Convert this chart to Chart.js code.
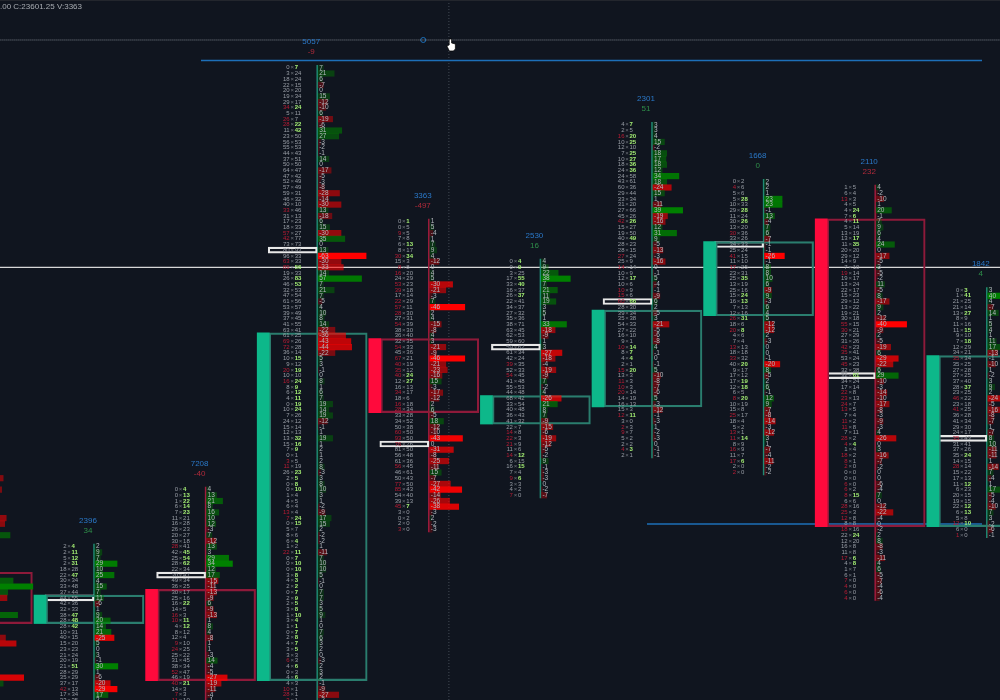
<!DOCTYPE html>
<html>
<head>
<meta charset="utf-8">
<title>Footprint chart</title>
<script src="https://cdn.jsdelivr.net/npm/chart.js@4"></script>
<style>
  html, body { margin: 0; background: #10151f; }
  canvas { display: block; }
</style>
</head>
<body>
<canvas id="myChart" width="1000" height="700"></canvas>
<script>
const tick = 0.25;
const lastClose = 23601.25;
const statusText = ".00 C:23601.25 V:3363";

const volumes = [2396, 7208, 5057, 3363, 2530, 2301, 1668, 2110, 1842];
const totals = [34, -40, -9, -497, 16, 51, 0, 232, 4];
const totalIsRed = [false, true, true, true, false, false, false, true, false];
const topPrices = [23595.25, 23597.75, 23616.25, 23609.5, 23607.75, 23613.75, 23611.25, 23611, 23606.5];
const pocPrices = [23593, 23594, 23608.25, 23599.75, 23604, 23606, 23608.5, 23602.75, 23600];

// candles, first one is the bar cut off at the left edge
const candleSlots = [-1, 0, 1, 2, 3, 4, 5, 6, 7, 8];
const candleOpen = [23594, 23592, 23593.25, 23589.5, 23604.25, 23600.75, 23601.5, 23605.5, 23609.5, 23596.25];
const candleClose = [23592, 23593, 23589.5, 23604.5, 23601.25, 23601.75, 23605.5, 23608.5, 23596.25, 23603.5];

const bid0 = [2, 2, 5, 2, 18, 22, 30, 33, 37, 44, 42, 32, 38, 28, 28, 10, 40, 15, 23, 21, 20, 21, 28, 35, 37, 42, 17, 33];
const ask0 = [4, 11, 12, 31, 28, 47, 34, 48, 44, 55, 36, 33, 47, 48, 42, 31, 15, 20, 23, 24, 19, 51, 29, 29, 17, 13, 34, 35];

const bid1 = [0, 0, 1, 6, 7, 11, 16, 26, 20, 30, 28, 42, 25, 28, 22, 30, 49, 36, 30, 25, 16, 14, 16, 10, 4, 8, 12, 9, 24, 25, 31, 38, 52, 46, 40, 14, 7, 11];
const ask1 = [4, 13, 22, 14, 23, 21, 28, 23, 27, 18, 41, 45, 54, 62, 34, 47, 34, 25, 17, 16, 22, 5, 3, 11, 12, 12, 4, 10, 25, 22, 45, 34, 47, 19, 21, 3, 3, 10];

const bid2 = [0, 3, 18, 22, 20, 19, 29, 34, 5, 26, 28, 11, 23, 56, 55, 44, 37, 50, 64, 47, 52, 57, 59,
  46, 40, 33, 31, 17, 18, 57, 42, 73, 80, 96, 63, 89, 19, 26, 46, 32, 47, 61, 53, 39, 37, 41, 63, 61, 69, 72, 36,
  10, 9, 20, 10, 16, 8, 6, 4, 0, 10, 7, 24, 15, 12, 13, 15, 7,
  0, 3, 11, 26, 2, 0, 0, 1, 4, 6, 13, 7, 0, 5, 8, 6, 1, 22, 0, 0, 0, 3, 4, 2, 0, 2, 2, 3, 1, 3, 1, 0, 2, 4, 3, 3, 6, 4, 0, 4, 4, 10, 28, 3];
const ask2 = [7, 24, 24, 15, 20, 34, 17, 24, 11, 7, 22, 42, 50, 53, 53, 43, 51, 50, 47, 42, 49, 49, 31,
  32, 10, 46, 13, 23, 33, 27, 77, 73, 93, 33, 33, 56, 33, 83, 53, 53, 54, 56, 57, 49, 45, 55, 41, 25, 26, 28, 14,
  15, 12, 19, 10, 24, 9, 12, 11, 19, 24, 26, 12, 14, 13, 32, 16, 9,
  1, 5, 19, 23, 5, 8, 10, 4, 5, 4, 4, 24, 15, 7, 6, 4, 2, 11, 7, 10, 10, 8, 3, 2, 7, 9, 5, 8, 10, 4, 1, 7, 8, 7, 5, 3, 3, 6, 3, 6, 3, 1, 1, 1];

const bid3 = [0, 0, 9, 7, 6, 8, 30, 15, 8, 16, 24, 53, 39, 17, 22, 57, 28, 27, 54, 38, 36, 32, 54, 45, 67, 40, 35, 40, 12, 16, 34, 18, 16, 28, 33, 34, 50, 60, 93, 76, 81, 56, 61, 56, 46, 50, 77, 85, 54, 39, 45, 3, 0, 2, 3];
const ask3 = [1, 5, 5, 8, 13, 17, 34, 3, 8, 20, 29, 23, 18, 14, 29, 11, 30, 31, 39, 30, 40, 35, 33, 36, 21, 19, 12, 24, 27, 13, 17, 6, 18, 34, 28, 52, 38, 50, 50, 76, 50, 48, 36, 45, 61, 43, 50, 43, 40, 13, 7, 0, 2, 0, 0];

const bid4 = [0, 0, 3, 17, 33, 16, 26, 22, 34, 27, 35, 38, 63, 62, 59, 59, 61, 42, 39, 52, 54, 41, 55, 44, 68, 33, 40, 36, 41, 22, 14, 22, 21, 11, 14, 6, 16, 7, 9, 3, 4, 7];
const ask4 = [4, 9, 25, 55, 40, 37, 37, 41, 37, 32, 36, 71, 45, 53, 60, 62, 34, 24, 35, 33, 45, 48, 53, 48, 42, 54, 48, 43, 32, 7, 8, 3, 9, 6, 12, 15, 15, 4, 6, 3, 2, 0];

const bid5 = [4, 2, 16, 10, 12, 7, 10, 18, 24, 24, 43, 60, 29, 33, 31, 27, 45, 42, 15, 19, 40, 28, 28, 27, 25, 14, 10, 12, 10, 10, 15, 60, 28, 39, 35, 54, 27, 16, 9, 10, 8, 4, 2, 15, 13, 11, 10, 20, 14, 16, 15, 12, 3, 2, 9, 5, 2, 4, 2];
const ask5 = [7, 5, 20, 25, 10, 25, 27, 36, 36, 58, 61, 36, 44, 34, 20, 66, 26, 26, 27, 50, 49, 23, 15, 24, 9, 14, 9, 17, 6, 9, 6, 66, 30, 34, 38, 33, 22, 10, 1, 14, 7, 4, 1, 20, 3, 3, 3, 14, 19, 13, 3, 11, 0, 3, 7, 2, 2, 3, 1];

const bid6 = [0, 4, 5, 5, 10, 29, 11, 30, 13, 30, 33, 34, 25, 41, 11, 17, 23, 25, 13, 25, 15, 16, 7, 12, 26, 18, 20, 4, 7, 13, 18, 33, 40, 9, 17, 17, 12, 6, 8, 10, 15, 25, 18, 5, 13, 11, 8, 16, 11, 17, 2, 2];
const ask6 = [2, 6, 6, 28, 33, 28, 24, 26, 20, 36, 26, 33, 24, 15, 10, 25, 31, 35, 19, 16, 24, 13, 13, 16, 31, 6, 8, 6, 4, 13, 18, 32, 20, 17, 12, 19, 18, 5, 20, 19, 8, 17, 4, 2, 1, 14, 9, 9, 7, 6, 0, 0];

const bid7 = [1, 6, 13, 4, 4, 7, 4, 5, 13, 13, 11, 20, 29, 14, 7, 19, 19, 13, 22, 15, 29, 13, 19, 30, 55, 30, 27, 31, 42, 35, 53, 45, 32, 32, 34, 17, 22, 23, 24, 13, 7, 11, 11, 7, 28, 4, 1, 18, 8, 2, 0, 0, 6, 6, 8, 6, 28, 25, 12, 8, 18, 22, 12, 16, 11, 17, 4, 1, 6, 7, 4, 6, 4];
const ask7 = [5, 4, 3, 5, 24, 6, 11, 14, 19, 17, 35, 20, 12, 9, 10, 14, 17, 24, 17, 23, 12, 22, 21, 18, 15, 21, 29, 26, 23, 41, 24, 23, 38, 61, 24, 14, 8, 13, 7, 5, 4, 2, 8, 11, 2, 4, 4, 2, 1, 0, 0, 0, 0, 2, 15, 6, 16, 3, 8, 8, 16, 24, 20, 8, 8, 6, 8, 7, 1, 0, 0, 0, 0];

const bid8 = [0, 1, 21, 21, 13, 8, 11, 11, 9, 7, 12, 34, 35, 35, 27, 27, 37, 28, 23, 46, 23, 41, 36, 41, 29, 24, 35, 31, 37, 35, 14, 28, 15, 17, 11, 6, 20, 19, 22, 6, 5, 12, 6, 1];
const ask8 = [3, 41, 25, 14, 27, 9, 16, 15, 10, 18, 29, 21, 34, 25, 28, 25, 40, 37, 25, 22, 18, 25, 28, 34, 30, 17, 43, 41, 26, 24, 15, 14, 22, 13, 12, 23, 15, 15, 12, 13, 8, 10, 0, 0];

const bids = [bid0, bid1, bid2, bid3, bid4, bid5, bid6, bid7, bid8];
const asks = [ask0, ask1, ask2, ask3, ask4, ask5, ask6, ask7, ask8];

// only the delta bars of the cut off footprint are on screen
const cutPrices = [23598.25, 23597.75, 23596.5, 23596.25, 23595.75, 23593.75, 23593.5, 23593.25, 23593, 23592.25, 23591.25, 23591, 23589.5, 23589.25];
const cutDeltas = [-26, -24, -30, -28, 35, 39, 65, 32, -31, 45, -29, -43, -53, 26];

// levels
const blueHigh = 23616.57;
const blueLow = 23596.24;
const priceLine = 23607.5;
const crossPrice = 23617.47;
const crossSlot = 3.18;
const markerSlot = 2.95;

const pxPerSlot = 111.6;
const px = (n) => n / pxPerSlot;
const deltaPx = 0.76;
const yTop = lastClose + (409.8 / 5.7) * tick;
const yBottom = lastClose - (290.2 / 5.7) * tick;

const GREEN = "#0db88a";
const RED = "#ff0a3c";
const BOX_GREEN = "#2a7d6e";
const BOX_RED = "#8e1a3a";

function deltaColor(d, max) {
  const a = (0.15 + 0.85 * Math.abs(d) / max).toFixed(2);
  return d >= 0 ? `rgba(0,128,0,${a})` : `rgba(255,0,0,${a})`;
}

const deltaBars = [];
const deltaColors = [];
function addDelta(slot, price, d, max) {
  deltaBars.push({ x: [slot + px(1), slot + px(1 + Math.abs(d) * deltaPx)], y: price });
  deltaColors.push(deltaColor(d, max));
}

const cutMax = Math.max(...cutDeltas.map(Math.abs));
cutPrices.forEach((p, i) => addDelta(-1, p, cutDeltas[i], cutMax));
bids.forEach((bid, s) => {
  const ds = bid.map((b, r) => asks[s][r] - b);
  const max = Math.max(...ds.map(Math.abs));
  ds.forEach((d, r) => addDelta(s, topPrices[s] - r * tick, d, max));
});

const datasets = [
  {
    type: "bar",
    indexAxis: "y",
    data: deltaBars,
    backgroundColor: deltaColors,
    barThickness: 5.5,
    grouped: false,
  },
  {
    type: "bar",
    indexAxis: "x",
    data: candleSlots.map((s, i) => ({ x: s - px(54), y: [candleOpen[i] - Math.sign(candleClose[i] - candleOpen[i]) * tick / 2, candleClose[i] + Math.sign(candleClose[i] - candleOpen[i]) * tick / 2] })),
    backgroundColor: candleSlots.map((s, i) => (candleClose[i] > candleOpen[i] ? GREEN : RED)),
    barThickness: 12,
    grouped: false,
  },
  {
    type: "bar",
    indexAxis: "x",
    data: candleSlots.map((s, i) => ({ x: s + px(1), y: [candleOpen[i] - Math.sign(candleClose[i] - candleOpen[i]) * tick / 2, candleClose[i] + Math.sign(candleClose[i] - candleOpen[i]) * tick / 2] })),
    backgroundColor: "transparent",
    borderColor: candleSlots.map((s, i) => (candleClose[i] > candleOpen[i] ? BOX_GREEN : BOX_RED)),
    borderWidth: 1.5,
    borderSkipped: false,
    barThickness: 98,
    grouped: false,
  },
  {
    type: "bar",
    indexAxis: "y",
    data: pocPrices.map((p, s) => ({ x: [s - px(49), s], y: p })),
    backgroundColor: "transparent",
    borderColor: "#e8e8e8",
    borderWidth: 1.5,
    borderSkipped: false,
    barThickness: 6,
    grouped: false,
  },
];

function levelLine(points, color, width, dash) {
  return {
    type: "line",
    data: points,
    borderColor: color,
    borderWidth: width,
    borderDash: dash || [],
    pointRadius: 0,
    fill: false,
  };
}

// spine of each footprint
bids.forEach((bid, s) => {
  const up = candleClose[s + 1] > candleOpen[s + 1];
  datasets.push(levelLine([
    { x: s, y: topPrices[s] + tick / 2 },
    { x: s, y: topPrices[s] - (bid.length - 0.5) * tick },
  ], up ? "#1f8a74" : "#a01c3e", 1.5));
});

datasets.push(levelLine([{ x: px(201 - 94), y: blueHigh }, { x: px(982 - 94), y: blueHigh }], "#1d6fb8", 1.5));
datasets.push(levelLine([{ x: px(647 - 94), y: blueLow }, { x: px(982 - 94), y: blueLow }], "#1d6fb8", 1.5));
datasets.push(levelLine([{ x: -1, y: priceLine }, { x: 9, y: priceLine }], "#d8d8d8", 1.2));
datasets.push(levelLine([{ x: -1, y: crossPrice }, { x: 9, y: crossPrice }], "rgba(170,175,185,0.7)", 1, [1, 1]));
datasets.push(levelLine([{ x: crossSlot, y: yBottom }, { x: crossSlot, y: yTop }], "rgba(130,140,150,0.45)", 1, [1, 2]));
datasets.push({
  type: "line",
  data: [{ x: markerSlot, y: crossPrice }],
  showLine: false,
  pointRadius: 2.5,
  pointBorderColor: "#1d6fb8",
  pointBackgroundColor: "transparent",
  pointBorderWidth: 1,
});

const footprintText = {
  id: "footprintText",
  afterDatasetsDraw(chart) {
    const { ctx, scales } = chart;
    ctx.save();
    ctx.textBaseline = "middle";
    bids.forEach((bid, s) => {
      const ax = scales.x.getPixelForValue(s);
      const ask = asks[s];
      const font = "6px 'Liberation Sans'";
      bid.forEach((b, r) => {
        const y = scales.y.getPixelForValue(topPrices[s] - r * tick);
        if (y > 706) return;
        const a = ask[r];
        const redBid = r > 0 && b > 0 && b >= ask[r - 1] * 1.5;
        const greenAsk = r < bid.length - 1 && a > 0 && a >= bid[r + 1] * 1.5;
        ctx.font = font;
        ctx.textAlign = "right";
        ctx.fillStyle = redBid ? "#b81c34" : "#989da5";
        ctx.fillText(String(b), ax - 27.5, y);
        ctx.textAlign = "center";
        ctx.fillStyle = "#6e737b";
        ctx.fillText("×", ax - 25, y);
        ctx.textAlign = "left";
        ctx.font = greenAsk ? "bold " + font : font;
        ctx.fillStyle = greenAsk ? "#a4ee74" : "#989da5";
        ctx.fillText(String(a), ax - 22.5, y);
        ctx.font = "6.5px 'Liberation Sans'";
        ctx.fillStyle = "#b4b8be";
        ctx.fillText(String(a - b), ax + 2, y);
      });
      const top = scales.y.getPixelForValue(topPrices[s]);
      ctx.textAlign = "center";
      ctx.font = "8px 'Liberation Sans'";
      ctx.fillStyle = "#2a78c8";
      ctx.fillText(String(volumes[s]), ax - 6, top - 26);
      ctx.fillStyle = totalIsRed[s] ? "#b02a3a" : "#2f8f4a";
      ctx.fillText(String(totals[s]), ax - 6, top - 16);
    });
    ctx.textAlign = "left";
    ctx.font = "8px 'Liberation Sans'";
    ctx.fillStyle = "#a8acb2";
    ctx.fillText(statusText, 0, 7);

    // strip of the window above the chart
    ctx.fillStyle = "#23262d";
    ctx.fillRect(0, 0, chart.width, 1);

    // mouse pointer
    const hx = scales.x.getPixelForValue(crossSlot) + 1.5;
    const hy = scales.y.getPixelForValue(crossPrice) - 1;
    ctx.fillStyle = "#fff";
    ctx.strokeStyle = "#000";
    ctx.lineWidth = 0.7;
    ctx.beginPath();
    ctx.moveTo(hx - 1.2, hy);
    ctx.lineTo(hx + 1.2, hy);
    ctx.lineTo(hx + 1.2, hy + 4);
    ctx.lineTo(hx + 5, hy + 5);
    ctx.lineTo(hx + 5, hy + 10);
    ctx.lineTo(hx + 3, hy + 12);
    ctx.lineTo(hx - 1, hy + 12);
    ctx.lineTo(hx - 3.5, hy + 7);
    ctx.lineTo(hx - 1.2, hy + 6);
    ctx.closePath();
    ctx.fill();
    ctx.stroke();
    ctx.restore();
  },
};

const ctx = document.getElementById("myChart");
const myChart = new Chart(ctx, {
  data: { datasets },
  plugins: [footprintText],
  options: {
    responsive: false,
    animation: false,
    layout: { padding: 0, autoPadding: false },
    plugins: { legend: { display: false }, tooltip: { enabled: false } },
    scales: {
      x: { type: "linear", display: false, offset: false, min: px(-94), max: px(906) },
      y: { type: "linear", display: false, offset: false, min: yBottom, max: yTop },
    },
  },
});
</script>
</body>
</html>
